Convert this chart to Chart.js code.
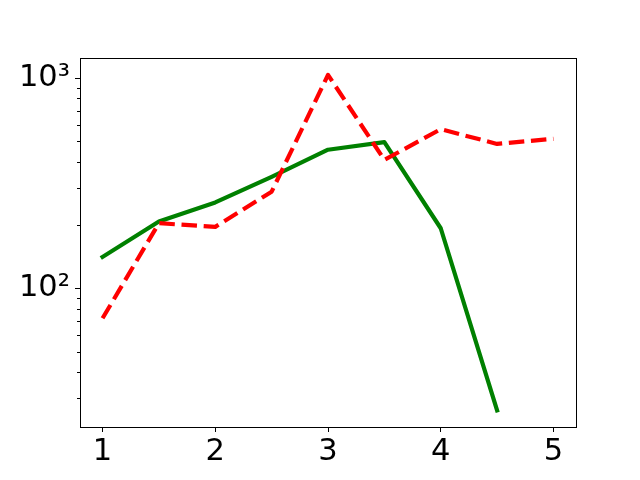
<!DOCTYPE html>
<html>
<head>
<meta charset="utf-8">
<script src="https://cdn.jsdelivr.net/npm/chart.js@4/dist/chart.umd.min.js"></script>
<style>
html,body{margin:0;padding:0;background:#fff;}
canvas{display:block;}
</style>
</head>
<body>
<canvas id="c" width="640" height="480"></canvas>
<script>
const xValues = [1, 1.5, 2, 2.5, 3, 3.5, 4, 4.5, 5];
const greenValues = [141, 208, 256, 339, 456, 496, 193, 26.3];
const redValues = [72, 204, 196, 288, 1035, 408, 571, 486, 514];
const xTicks = [1, 2, 3, 4, 5];
const yMajorTicks = [100, 1000];
const yMajorLabels = ['10²', '10³'];
const yMinorTicks = [30, 40, 50, 60, 70, 80, 90, 200, 300, 400, 500, 600, 700, 800, 900];

const toPoints = (vals) => vals.map((v, i) => ({x: xValues[i], y: v}));

const framePlugin = {
  id: 'frame',
  afterDraw(chart) {
    const ctx = chart.ctx, a = chart.chartArea;
    ctx.save();
    ctx.strokeStyle = '#000';
    ctx.lineWidth = 1;
    ctx.strokeRect(Math.round(a.left) + 0.5, Math.round(a.top) + 0.5,
                   Math.round(a.right - a.left), Math.round(a.bottom - a.top));
    const ys = chart.scales.y;
    ctx.beginPath();
    yMinorTicks.forEach(v => {
      const py = Math.round(ys.getPixelForValue(v)) + 0.5;
      if (py >= a.top && py <= a.bottom) {
        ctx.moveTo(a.left, py);
        ctx.lineTo(a.left - 3, py);
      }
    });
    ctx.stroke();
    ctx.restore();
  }
};

new Chart(document.getElementById('c'), {
  type: 'line',
  data: {
    datasets: [
      {
        data: toPoints(redValues),
        borderColor: '#ff0000',
        borderWidth: 4.2,
        borderDash: [15.5, 6.7],
        borderCapStyle: 'butt',
        borderJoinStyle: 'round',
        pointRadius: 0,
        fill: false,
        tension: 0
      },
      {
        data: toPoints(greenValues),
        borderColor: '#008000',
        borderWidth: 4.2,
        borderCapStyle: 'square',
        borderJoinStyle: 'round',
        pointRadius: 0,
        fill: false,
        tension: 0
      }
    ]
  },
  options: {
    responsive: false,
    animation: false,
    events: [],
    layout: {padding: {top: 58, right: 64, left: 0, bottom: 0}},
    plugins: {legend: {display: false}, tooltip: {enabled: false}},
    scales: {
      x: {
        type: 'linear',
        min: 0.8,
        max: 5.2,
        afterBuildTicks: (s) => { s.ticks = xTicks.map(v => ({value: v})); },
        afterFit: (s) => { s.height = 53; },
        ticks: {
          color: '#000',
          font: {family: 'DejaVu Sans', size: 30.5},
          padding: 2,
          maxRotation: 0,
          callback: (v) => String(v)
        },
        grid: {display: true, drawOnChartArea: false, drawTicks: true, tickLength: 5, tickColor: '#000', tickWidth: 1},
        border: {display: true, color: '#000', width: 1}
      },
      y: {
        type: 'logarithmic',
        min: 21.9,
        max: 1245,
        afterBuildTicks: (s) => { s.ticks = yMajorTicks.map(v => ({value: v})); },
        afterFit: (s) => { s.width = 80; },
        ticks: {
          color: '#000',
          font: {family: 'DejaVu Sans', size: 30.5},
          padding: 5,
          callback: (v) => {
            const i = yMajorTicks.indexOf(v);
            return i >= 0 ? yMajorLabels[i] : '';
          }
        },
        grid: {display: true, drawOnChartArea: false, drawTicks: true, tickLength: 5, tickColor: '#000', tickWidth: 1},
        border: {display: true, color: '#000', width: 1}
      }
    }
  },
  plugins: [framePlugin]
});
</script>
</body>
</html>
